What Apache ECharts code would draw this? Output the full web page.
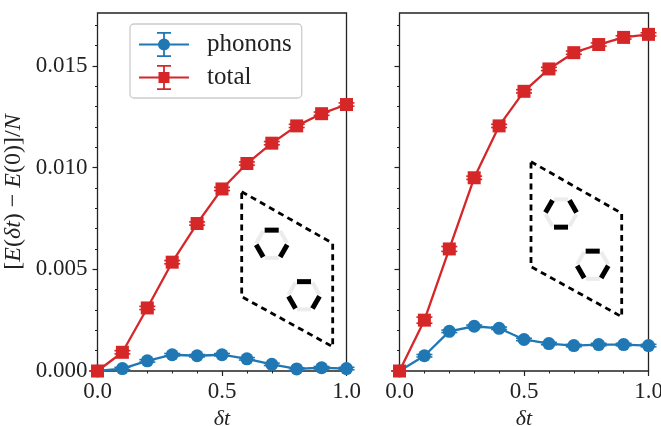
<!DOCTYPE html>
<html><head><meta charset="utf-8">
<style>html,body{margin:0;padding:0;background:#fff}#c{width:661px;height:426px}</style>
<script src="https://cdn.jsdelivr.net/npm/echarts@6/dist/echarts.min.js"></script>
</head><body><div id="c"></div>
<script>
const deltaT = [0,0.1,0.2,0.3,0.4,0.5,0.6,0.7,0.8,0.9,1.0];
const leftPhonons = [0,0.00012,0.0005,0.0008,0.00075,0.0008,0.0006,0.00033,0.0001,0.00016,0.00012];
const leftPhononsErr = [0,0.00006,0.00006,0.00006,0.00006,0.00006,0.00006,0.00006,0.00006,0.00006,0.00006];
const leftTotal = [0,0.00092,0.0031,0.00535,0.00725,0.00895,0.0102,0.0112,0.01205,0.01265,0.0131];
const leftTotalErr = [0,0.00008,0.00008,0.00008,0.00008,0.00008,0.00008,0.00008,0.00008,0.00008,0.00008];
const rightPhonons = [0,0.00075,0.00195,0.0022,0.0021,0.00155,0.00135,0.00125,0.0013,0.0013,0.00125];
const rightPhononsErr = [0,0.00006,0.00006,0.00006,0.00006,0.00006,0.00006,0.00006,0.00006,0.00006,0.00006];
const rightTotal = [0,0.0025,0.006,0.0095,0.01205,0.01375,0.01485,0.01565,0.01605,0.0164,0.01655];
const rightTotalErr = [0,0.00015,0.00012,0.00008,0.00008,0.00008,0.00008,0.00008,0.00008,0.00008,0.00008];
const yMajorTicks = [0,0.005,0.01,0.015];
const yMinorTicks = [0.001,0.002,0.003,0.004,0.006,0.007,0.008,0.009,0.011,0.012,0.013,0.014,0.016,0.017];
const xLabel = 'δt';
const yLabel = '{u|[}{i|E}{u|(}{i|δt}{u|) − }{i|E}{u|(0)]/}{i|N}';
const seriesNames = ['phonons','total'];

const BLUE='#1f77b4', RED='#d62728', FONT='"Liberation Serif","DejaVu Serif",serif', INK='#222';
const chart = echarts.init(document.getElementById('c'));

const grids = [
  {left:97.5, top:13, width:249, height:358, show:true, borderColor:INK, borderWidth:1.3, backgroundColor:'transparent', outerBoundsMode:'none'},
  {left:399.5, top:13, width:249, height:358, show:true, borderColor:INK, borderWidth:1.3, backgroundColor:'transparent', outerBoundsMode:'none'}
];
function xAxis(i){return {
  type:'value', gridIndex:i, min:0, max:1, interval:0.5, splitLine:{show:false},
  axisLine:{show:false},
  axisTick:{length:5,lineStyle:{color:INK,width:1.2}},
  minorTick:{show:true,splitNumber:5,length:2.5,lineStyle:{color:INK,width:1}},
  axisLabel:{fontFamily:FONT,fontSize:23,color:INK,margin:9,formatter:v=>v.toFixed(1),hideOverlap:false,showMinLabel:true,showMaxLabel:true},
  name:xLabel, nameLocation:'middle', nameGap:35,
  nameTextStyle:{fontFamily:FONT,fontSize:22,fontStyle:'italic',color:INK}
};}
function yMajor(i){return {
  type:'value', gridIndex:i, min:0, max:0.0176, position:'left', splitLine:{show:false},
  axisLine:{show:false},
  axisTick:{length:5,lineStyle:{color:INK,width:1.2},customValues:yMajorTicks},
  axisLabel:{show:i===0,customValues:yMajorTicks,fontFamily:FONT,fontSize:23,color:INK,margin:10,formatter:v=>v.toFixed(3)},
  name:i===0?yLabel:'', nameLocation:'middle', nameGap:72, nameRotate:90,
  nameTextStyle:{rich:{
    u:{fontFamily:FONT,fontSize:24,color:INK},
    i:{fontFamily:FONT,fontSize:24,fontStyle:'italic',color:INK}
  }}
};}
function yMinor(i){return {
  type:'value', gridIndex:i, min:0, max:0.0176, position:'left', splitLine:{show:false},
  axisLine:{show:false},
  axisTick:{length:2.5,lineStyle:{color:INK,width:1},customValues:yMinorTicks},
  axisLabel:{show:false,customValues:yMinorTicks}
};}

function errSeries(name,xi,yi,vals,errs,color){
  return {
    type:'custom', name:name+' err', xAxisIndex:xi, yAxisIndex:yi, clip:false, z:2,
    data:deltaT.map((x,k)=>[x,vals[k],errs[k]]),
    renderItem:(p,api)=>{
      const x=api.value(0),y=api.value(1),e=api.value(2);
      const a=api.coord([x,y+e]), b=api.coord([x,y-e]), w=8;
      const s={stroke:color,lineWidth:1.6,fill:null};
      return {type:'group',children:[
        {type:'line',shape:{x1:a[0],y1:a[1],x2:b[0],y2:b[1]},style:s},
        {type:'line',shape:{x1:a[0]-w,y1:a[1],x2:a[0]+w,y2:a[1]},style:s},
        {type:'line',shape:{x1:b[0]-w,y1:b[1],x2:b[0]+w,y2:b[1]},style:s}
      ]};
    }
  };
}
function lineSeries(name,xi,yi,vals,color,symbol,size,z){
  return {
    type:'line', name, xAxisIndex:xi, yAxisIndex:yi, clip:false, z, symbol, symbolSize:size,
    showAllSymbol:true, animation:false,
    data:deltaT.map((x,k)=>[x,vals[k]]),
    lineStyle:{color,width:2.3}, itemStyle:{color,opacity:1}
  };
}

// legend icons: line + error bar + marker, 50x25 boxes
const rect=(x,y,w,h)=>`M${x} ${y}L${x+w} ${y}L${x+w} ${y+h}L${x} ${y+h}Z`;
const errIcon=rect(0,11.6,50,1.8)+rect(24.1,0,1.8,25)+rect(18,0,14,1.8)+rect(18,23.2,14,1.8);
const circ=`M19 12.5A6 6 0 1 1 31 12.5A6 6 0 1 1 19 12.5Z`;
const iconPhonons='path://'+errIcon+circ;
const iconTotal='path://'+errIcon+rect(19.5,7,11,11);

// inset drawing
function inset(box,hexes){
  const els=[];
  els.push({type:'polygon',shape:{points:box},style:{fill:null,stroke:'#000',lineWidth:2.8,lineDash:[6,4.5]},z:1});
  const R=16;
  hexes.forEach(h=>{
    const pts=[];
    for(let k=0;k<6;k++){const t=Math.PI/3*k;pts.push([h.c[0]+R*Math.cos(t),h.c[1]+R*Math.sin(t)]);}
    for(let k=0;k<6;k++){
      const a=pts[k],b=pts[(k+1)%6],dark=h.dark.includes(k);
      const sa=[a[0]+(b[0]-a[0])*.06,a[1]+(b[1]-a[1])*.06], sb=[a[0]+(b[0]-a[0])*.94,a[1]+(b[1]-a[1])*.94];
      els.push({type:'line',shape:{x1:sa[0],y1:sa[1],x2:sb[0],y2:sb[1]},
        style:{stroke:dark?'#000':'#ececec',lineWidth:dark?5:4},z:dark?2:1});
    }
  });
  return els;
}
// edge index: 0 lower-right, 1 bottom, 2 lower-left, 3 upper-left, 4 top, 5 upper-right
const graphicEls = [
  ...inset([[241.7,191.7],[332.7,243.3],[332.7,346.7],[241.7,296.7]],
    [{c:[271.7,244],dark:[0,2,4]},{c:[304,295.5],dark:[0,2,4]}]),
  ...inset([[531,161.7],[621.7,213.3],[621.7,316.7],[531,266.7]],
    [{c:[561,213.3],dark:[1,3,5]},{c:[592.7,265],dark:[0,2,4]}])
];

chart.setOption({
  animation:false,
  backgroundColor:'#fff',
  grid:grids,
  xAxis:[xAxis(0),xAxis(1)],
  yAxis:[yMajor(0),yMinor(0),yMajor(1),yMinor(1)],
  legend:{
    left:130, top:24, orient:'vertical', itemWidth:50, itemHeight:25, itemGap:8,
    padding:[8,10,8,9], backgroundColor:'rgba(255,255,255,0.8)', borderColor:'#ccc', borderWidth:1.3, borderRadius:4,
    data:[{name:seriesNames[0],icon:iconPhonons},{name:seriesNames[1],icon:iconTotal}],
    textStyle:{fontFamily:FONT,fontSize:25,color:INK,padding:[0,0,0,13]},
    selectedMode:false, z:10, itemStyle:{borderWidth:0}
  },
  series:[
    errSeries('phonons',0,0,leftPhonons,leftPhononsErr,BLUE),
    lineSeries(seriesNames[0],0,0,leftPhonons,BLUE,'circle',13,3),
    errSeries('total',0,0,leftTotal,leftTotalErr,RED),
    lineSeries(seriesNames[1],0,0,leftTotal,RED,'rect',13,4),
    errSeries('phonons r',1,2,rightPhonons,rightPhononsErr,BLUE),
    lineSeries(seriesNames[0],1,2,rightPhonons,BLUE,'circle',13,3),
    errSeries('total r',1,2,rightTotal,rightTotalErr,RED),
    lineSeries(seriesNames[1],1,2,rightTotal,RED,'rect',13,4)
  ],
  graphic:{elements:graphicEls}
});
</script></body></html>
